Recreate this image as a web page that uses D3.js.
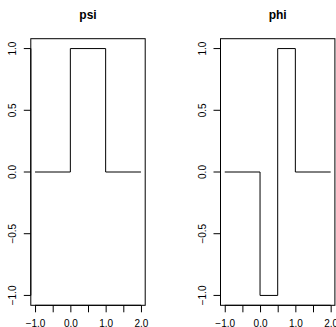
<!DOCTYPE html>
<html><head><meta charset="utf-8">
<script src="https://cdn.jsdelivr.net/npm/d3@7"></script>
<style>body{margin:0;background:#fff}svg{display:block}text{font-family:"Liberation Sans",Arial,sans-serif}</style>
</head><body>
<script>
const titles = ["psi", "phi"];
const psiX = [-1, 0, 0, 1, 1, 2];
const psiY = [0, 0, 1, 1, 0, 0];
const phiX = [-1, 0, 0, 0.5, 0.5, 1, 1, 2];
const phiY = [0, 0, -1, -1, 1, 1, 0, 0];
const xTicks = [-1, -0.5, 0, 0.5, 1, 1.5, 2];
const xLabelTicks = [-1, 0, 1, 2];
const yTicks = [-1, -0.5, 0, 0.5, 1];

(function () {
const W = 336, H = 327;
const svg = d3.select("body").append("svg").attr("width", W).attr("height", H);

const panels = [
  {title: titles[0], xs: psiX, ys: psiY, left: 30.8, right: 145.2},
  {title: titles[1], xs: phiX, ys: phiY, left: 220.5, right: 334.9}
];
const plotTop = 38.7, plotBottom = 305.3;
const fmt = d => d3.format(".1f")(d).replace("-", "\u2212");

panels.forEach(p => {
  const x = d3.scaleLinear().domain([-1.12, 2.12]).range([p.left, p.right]);
  const y = d3.scaleLinear().domain([-1.08, 1.08]).range([plotBottom, plotTop]);
  const g = svg.append("g");
  g.append("rect").attr("x", p.left).attr("y", plotTop).attr("width", p.right - p.left).attr("height", plotBottom - plotTop)
    .attr("fill", "none").attr("stroke", "#000").attr("stroke-width", 1);
  const xa = g.append("g").attr("transform", `translate(0,${plotBottom})`)
    .call(d3.axisBottom(x).tickValues(xTicks).tickSize(7).tickSizeOuter(0).tickFormat(d => xLabelTicks.includes(d) ? fmt(d) : ""));
  xa.select(".domain").attr("d", `M${x(-1)},0H${x(2)}`);
  xa.selectAll("text").attr("font-size", 10).attr("dy", null).attr("y", 22).attr("font-family", "Liberation Sans, Arial, sans-serif");
  const ya = g.append("g").attr("transform", `translate(${p.left},0)`)
    .call(d3.axisLeft(y).tickValues(yTicks).tickSize(7).tickSizeOuter(0).tickFormat(fmt));
  ya.select(".domain").attr("d", `M0,${y(-1)}V${y(1)}`);
  ya.selectAll(".tick").attr("transform", null);
  ya.selectAll(".tick line").attr("y1", d => y(d)).attr("y2", d => y(d));
  ya.selectAll("text").attr("font-size", 10).attr("x", null).attr("dy", null).attr("y", null)
    .attr("transform", d => `translate(-17,${y(d)}) rotate(-90)`)
    .attr("text-anchor", "middle").attr("dominant-baseline", "middle").attr("font-family", "Liberation Sans, Arial, sans-serif");
  const pts = p.xs.map((v, i) => [v, p.ys[i]]);
  g.append("path").datum(pts).attr("d", d3.line().x(d => x(d[0])).y(d => y(d[1])))
    .attr("fill", "none").attr("stroke", "#000").attr("stroke-width", 1);
  g.append("text").attr("x", (p.left + p.right) / 2).attr("y", 19).attr("text-anchor", "middle")
    .attr("font-weight", "bold").attr("font-size", 12).text(p.title);
});
})();
</script>
</body></html>
